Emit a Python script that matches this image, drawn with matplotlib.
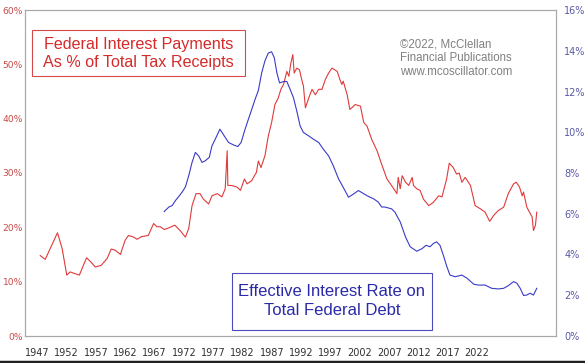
import matplotlib.pyplot as plt
from matplotlib.lines import Line2D
from matplotlib.patches import Rectangle

# federal interest payments as % of total tax receipts (left axis)
red_years = [1947.0, 1947.75, 1948.5, 1949.6, 1950.3, 1951.0, 1951.5, 1952.2, 1952.9, 1953.5,
             1954.0, 1954.8, 1955.3, 1956.2, 1957.1, 1957.7, 1958.3, 1959.1, 1959.3, 1959.8,
             1960.3, 1961.1, 1961.6, 1962.3, 1963.3, 1964.1, 1964.6, 1965.1, 1965.7, 1966.4,
             1967.3, 1968.1, 1968.9, 1969.4, 1969.9, 1970.5, 1971.1, 1971.6, 1972.4, 1972.9,
             1973.7, 1974.4, 1974.9, 1975.2, 1975.3, 1975.9, 1976.7, 1977.2, 1977.8, 1978.2,
             1978.9, 1979.6, 1979.9, 1980.3, 1980.9, 1981.4, 1981.9, 1982.4, 1982.9, 1983.3,
             1983.7, 1984.2, 1984.5, 1984.8, 1985.1, 1985.3, 1985.7, 1986.1, 1986.5, 1986.7,
             1987.0, 1987.5, 1988.0, 1988.5, 1989.0, 1989.5, 1990.0, 1990.5, 1991.0, 1991.8,
             1992.2, 1992.5, 1992.7, 1993.3, 1993.7, 1994.0, 1994.5, 1995.3, 1995.8, 1996.3,
             1997.0, 1997.8, 1998.5, 1999.3, 2000.0, 2000.8, 2001.0, 2001.3, 2001.6, 2002.1,
             2002.6, 2003.1, 2003.3, 2003.8, 2004.3, 2004.8, 2005.6, 2006.3, 2007.1, 2007.6,
             2008.3, 2008.7, 2009.3, 2009.8, 2010.2, 2010.6, 2011.1, 2011.9, 2012.6, 2013.4,
             2014.1, 2014.8, 2015.4, 2016.1, 2016.9, 2017.6, 2018.4, 2018.8, 2019.3, 2019.7,
             2019.9, 2020.4, 2021.2, 2021.4, 2021.7, 2021.9]
red_vals = [14.8, 14.1, 16.1, 19.0, 16.1, 11.2, 11.8, 11.5, 11.2, 13.0,
            14.4, 13.4, 12.7, 13.0, 14.3, 16.0, 15.8, 15.0, 15.8, 17.6,
            18.5, 18.2, 17.8, 18.3, 18.5, 20.7, 20.1, 20.1, 19.6, 19.9,
            20.4, 19.4, 18.2, 19.8, 24.0, 26.2, 26.2, 25.2, 24.3, 25.8,
            26.2, 25.6, 27.1, 34.1, 27.7, 27.7, 27.4, 26.8, 28.9, 28.0,
            28.6, 30.1, 32.2, 31.0, 33.2, 36.8, 39.3, 42.6, 43.8, 45.4,
            46.3, 48.7, 47.8, 50.2, 51.8, 48.4, 49.3, 49.0, 46.9, 46.0,
            42.0, 43.8, 45.4, 44.4, 45.4, 45.4, 47.2, 48.4, 49.3, 48.7,
            47.2, 46.3, 46.9, 44.4, 41.7, 42.0, 42.6, 42.3, 39.3, 38.6,
            36.2, 34.1, 31.6, 28.9, 27.7, 26.2, 29.2, 27.1, 29.5, 28.3,
            27.7, 29.2, 27.7, 27.1, 26.8, 25.2, 24.0, 24.6, 25.8, 25.6,
            28.9, 31.8, 31.0, 29.8, 30.0, 28.3, 29.2, 27.7, 24.0, 23.4,
            22.8, 21.1, 22.2, 23.1, 23.7, 26.2, 28.0, 28.3, 27.4, 25.8,
            26.5, 23.7, 21.9, 19.4, 20.4, 22.8]

# effective interest rate on total federal debt (right axis)
blue_years = [1965.7, 1966.4, 1966.9, 1967.4, 1968.0, 1968.4, 1968.9, 1969.4, 1969.9, 1970.4,
              1970.9, 1971.4, 1971.9, 1972.5, 1972.9, 1973.4, 1974.1, 1974.6, 1975.4, 1976.2,
              1976.8, 1977.3, 1977.9, 1978.4, 1978.9, 1979.4, 1979.9, 1980.4, 1980.9, 1981.4,
              1981.9, 1982.3, 1982.7, 1983.1, 1983.7, 1984.2, 1984.7, 1985.2, 1985.7, 1986.2,
              1986.7, 1987.5, 1988.2, 1989.0, 1989.7, 1990.5, 1991.2, 1992.0, 1992.7, 1993.5,
              1994.3, 1995.0, 1995.8, 1996.5, 1997.3, 1998.0, 1998.5, 1999.0, 2000.0, 2000.5,
              2001.3, 2002.1, 2002.8, 2003.8, 2004.6, 2005.2, 2005.8, 2006.3, 2006.8, 2007.3,
              2007.8, 2008.3, 2008.8, 2009.6, 2010.6, 2011.4, 2012.4, 2013.1, 2014.1, 2015.1,
              2016.1, 2016.9, 2017.6, 2018.4, 2018.9, 2019.4, 2019.9, 2020.4, 2020.9, 2021.4,
              2021.9]
blue_vals = [6.11, 6.33, 6.40, 6.65, 6.89, 7.06, 7.32, 7.87, 8.52, 9.01,
             8.84, 8.52, 8.60, 8.77, 9.33, 9.66, 10.15, 9.90, 9.50, 9.37,
             9.30, 9.50, 10.15, 10.64, 11.12, 11.61, 12.05, 12.91, 13.51, 13.89,
             13.95, 13.66, 12.91, 12.42, 12.49, 12.49, 12.10, 11.69, 11.04, 10.31,
             9.99, 9.82, 9.66, 9.50, 9.17, 8.84, 8.36, 7.71, 7.30, 6.81,
             6.98, 7.14, 6.98, 6.85, 6.73, 6.57, 6.33, 6.33, 6.24, 6.08,
             5.60, 4.86, 4.38, 4.16, 4.29, 4.45, 4.38, 4.54, 4.62, 4.45,
             3.97, 3.44, 2.99, 2.91, 2.99, 2.83, 2.54, 2.50, 2.50, 2.34,
             2.31, 2.34, 2.47, 2.67, 2.59, 2.34, 1.99, 2.01, 2.10, 2.01,
             2.34]

year_labels = ['1947', '1952', '1957', '1962', '1967', '1972', '1977', '1982',
               '1987', '1992', '1997', '2002', '2007', '2012', '2017', '2022']
left_ticks = [0, 10, 20, 30, 40, 50, 60]
right_ticks = [0, 2, 4, 6, 8, 10, 12, 14, 16]

RED = '#e03a3a'
BLUE = '#3a3ac8'

fig = plt.figure(figsize=(5.85, 3.63), dpi=100)
ax = fig.add_axes([25 / 585, 1 - 336 / 363, 531 / 585, 326 / 363])
ax2 = ax.twinx()

ax.plot(red_years, red_vals, color=RED, lw=0.8)
ax2.plot(blue_years, blue_vals, color=BLUE, lw=0.8)

ax.set_xlim(1944.7, 2024.8)
ax.set_ylim(0, 60)
ax2.set_ylim(0, 16)

# the year labels in the original sit on their own spacing
step = (2012.9 - 1946.55) / (len(year_labels) - 1)
ax.set_xticks([1946.55 + i * step for i in range(len(year_labels))])
ax.set_xticklabels(year_labels)
ax.set_yticks(left_ticks)
ax.set_yticklabels(['%d%%' % v for v in left_ticks])
ax2.set_yticks(right_ticks)
ax2.set_yticklabels(['%d%%' % v for v in right_ticks])

ax.tick_params(axis='x', length=0, pad=9, labelsize=7, labelcolor='#303030')
ax.tick_params(axis='y', length=0, pad=1.5, labelsize=6.6, labelcolor='#c84848')
ax2.tick_params(axis='y', length=0, pad=6, labelsize=7, labelcolor='#5a5aa8')

for a in (ax, ax2):
    for s in a.spines.values():
        s.set_color('#a8a8a8')
        s.set_linewidth(0.8)

# title boxes
ax.add_patch(Rectangle((0.0132, 0.798), 0.4011, 0.141, transform=ax.transAxes,
                       fc='white', ec='#d44a4a', lw=0.8, zorder=3))
ax.text(0.214, 0.866, 'Federal Interest Payments\nAs % of Total Tax Receipts',
        transform=ax.transAxes, ha='center', va='center', color='#d42a2a',
        family='Liberation Sans', fontsize=11.6, linespacing=1.2, zorder=4)

ax.text(0.706, 0.914, '\u00a92022, McClellan\nFinancial Publications\nwww.mcoscillator.com',
        transform=ax.transAxes, ha='left', va='top', color='#808080',
        family='Liberation Sans', fontsize=8.3, linespacing=1.2)

ax.add_patch(Rectangle((0.390, 0.018), 0.376, 0.175, transform=ax.transAxes,
                       fc='white', ec='#4a4ab8', lw=0.8, zorder=3))
ax.text(0.578, 0.108, 'Effective Interest Rate on\nTotal Federal Debt',
        transform=ax.transAxes, ha='center', va='center', color='#2a2aa8',
        family='Liberation Sans', fontsize=12, linespacing=1.3, zorder=4)

fig.add_artist(Line2D([0, 1], [0.004, 0.004], transform=fig.transFigure, color='#202020', lw=2.5))

fig.savefig('out.png', dpi=100)
